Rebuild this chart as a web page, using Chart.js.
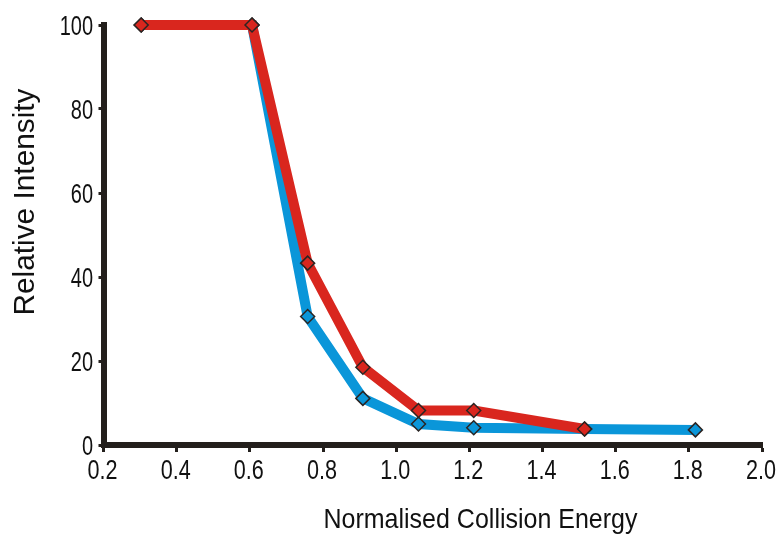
<!DOCTYPE html>
<html>
<head>
<meta charset="utf-8">
<script src="https://cdn.jsdelivr.net/npm/chart.js@4"></script>
<style>
  html, body { margin: 0; padding: 0; background: #ffffff; }
  #wrap { width: 776px; height: 536px; }
</style>
</head>
<body>
<div id="wrap"><canvas id="chart" width="776" height="536"></canvas></div>
<script>
// Normalised collision energy at each measurement
const energies = [0.303, 0.606, 0.758, 0.909, 1.061, 1.212, 1.515, 1.818];
// Relative intensity of the two series (red one ends at 1.515)
const redIntensity  = [100, 100, 43.3, 18.5, 8.2, 8.2, 3.8];
const blueIntensity = [100, 100, 30.6, 11.1, 5.0, 4.1, 3.8, 3.6];
const xTicks = [0.2, 0.4, 0.6, 0.8, 1.0, 1.2, 1.4, 1.6, 1.8, 2.0];
const yTicks = [0, 20, 40, 60, 80, 100];
const xTitle = 'Normalised Collision Energy';
const yTitle = 'Relative Intensity';

const RED = '#d9261e';
const BLUE = '#0a96d9';
const MARK_EDGE = '#2b2523';
const AXIS = '#231f1c';
const TEXT = '#111111';
const SANS = "'Liberation Sans', Arial, sans-serif";

const toPoints = (ys) => ys.map((y, i) => ({ x: energies[i], y }));

// Draw a string squeezed horizontally by a factor
function squeezedText(ctx, text, x, y, squeeze, align) {
  ctx.save();
  ctx.translate(x, y);
  ctx.scale(squeeze, 1);
  ctx.textAlign = align;
  ctx.fillText(text, 0, 0);
  ctx.restore();
}

// Condensed tick labels placed from the scales' own tick positions
const tickLabels = {
  id: 'tickLabels',
  afterDraw(chart) {
    const ctx = chart.ctx;
    const xs = chart.scales.x, ys = chart.scales.y;
    ctx.save();
    ctx.fillStyle = TEXT;
    ctx.font = '27px ' + SANS;
    ctx.textBaseline = 'middle';
    xs.ticks.forEach(t => {
      squeezedText(ctx, Number(t.value).toFixed(1), xs.getPixelForValue(t.value) - 1, 472, 0.8, 'center');
    });
    ys.ticks.forEach(t => {
      squeezedText(ctx, String(t.value), 93, ys.getPixelForValue(t.value) + 3, 0.74, 'right');
    });
    ctx.restore();
  }
};

// Axis titles drawn beside the axes, squeezed to their set widths
const axisTitles = {
  id: 'axisTitles',
  afterDraw(chart) {
    const ctx = chart.ctx;
    const area = chart.chartArea;
    ctx.save();
    ctx.fillStyle = TEXT;
    ctx.textBaseline = 'alphabetic';
    // x title
    ctx.font = '28px ' + SANS;
    let w = ctx.measureText(xTitle).width;
    squeezedText(ctx, xTitle, area.left + 377, 528, 314 / w, 'center');
    // y title
    ctx.font = '29px ' + SANS;
    w = ctx.measureText(yTitle).width;
    ctx.save();
    ctx.translate(34, area.top + 177);
    ctx.rotate(-Math.PI / 2);
    squeezedText(ctx, yTitle, 0, 0, 227 / w, 'center');
    ctx.restore();
    ctx.restore();
  }
};

const seriesStyle = (color) => ({
  borderColor: color,
  backgroundColor: color,
  borderWidth: 10,
  pointStyle: 'rectRot',
  pointRadius: 7,
  pointBackgroundColor: color,
  pointBorderColor: MARK_EDGE,
  pointBorderWidth: 1.5,
  tension: 0,
  clip: false
});

new Chart(document.getElementById('chart'), {
  type: 'line',
  data: {
    datasets: [
      Object.assign({ label: 'red', data: toPoints(redIntensity) }, seriesStyle(RED)),
      Object.assign({ label: 'blue', data: toPoints(blueIntensity) }, seriesStyle(BLUE))
    ]
  },
  options: {
    responsive: false,
    animation: false,
    events: [],
    layout: { padding: { left: 0, right: 14, top: 25, bottom: 0 } },
    plugins: { legend: { display: false }, tooltip: { enabled: false } },
    scales: {
      x: {
        type: 'linear',
        min: xTicks[0],
        max: xTicks[xTicks.length - 1],
        afterBuildTicks(scale) { scale.ticks = xTicks.map(v => ({ value: v })); },
        afterFit(scale) { scale.height = 91; scale.paddingLeft = 0; scale.paddingRight = 0; },
        border: { display: true, color: AXIS, width: 6 },
        grid: { drawOnChartArea: false, drawTicks: true, tickLength: 7, tickWidth: 3, tickColor: AXIS },
        ticks: { display: false, autoSkip: false },
        title: { display: false }
      },
      y: {
        type: 'linear',
        min: yTicks[0],
        max: yTicks[yTicks.length - 1],
        afterBuildTicks(scale) { scale.ticks = yTicks.map(v => ({ value: v })); },
        afterFit(scale) { scale.width = 103.5; scale.paddingTop = 0; scale.paddingBottom = 0; },
        border: { display: true, color: AXIS, width: 6 },
        grid: { drawOnChartArea: false, drawTicks: true, tickLength: 5, tickWidth: 3, tickColor: AXIS },
        ticks: { display: false, autoSkip: false },
        title: { display: false }
      }
    }
  },
  plugins: [tickLabels, axisTitles]
});
</script>
</body>
</html>
